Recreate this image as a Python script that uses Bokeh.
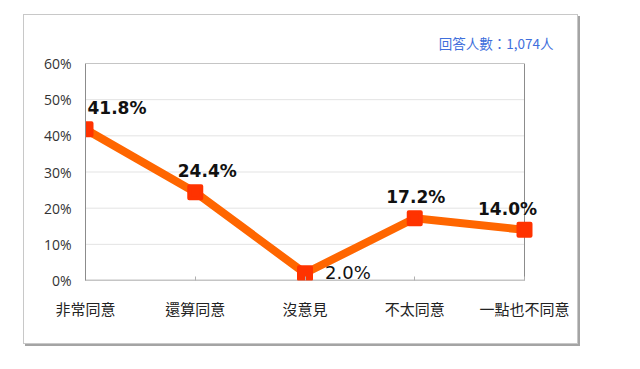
from bokeh.plotting import figure
from bokeh.models import (ColumnDataSource, FixedTicker, PrintfTickFormatter,
                          Title, Range1d)
from bokeh.core.properties import value
from bokeh.embed import file_html
from bokeh.resources import INLINE

# ---- data ----
categories = ["非常同意", "還算同意", "沒意見", "不太同意", "一點也不同意"]
values = [41.8, 24.4, 2.0, 17.2, 14.0]
value_labels = ["41.8%", "24.4%", "2.0%", "17.2%", "14.0%"]
y_ticks = [0, 10, 20, 30, 40, 50, 60]
respondents = "回答人數：1,074人"

# ---- label styling (offsets relative to points) ----
lab_dx = [2, 12, 20, 1, -17]
lab_dy = [-21, -21, -1, -21, -21]
lab_align = ["left", "center", "left", "center", "center"]
lab_style = ["bold", "bold", "normal", "bold", "bold"]
lab_size = ["17px", "17px", "18px", "17px", "17px"]

xs = list(range(len(categories)))
x_max = len(categories) - 1
y_max = y_ticks[-1]

p = figure(width=553, height=328, output_backend="svg", toolbar_location=None,
           x_range=Range1d(0, x_max * 455 / 439.0), y_range=Range1d(0, y_max),
           min_border_left=61, min_border_right=37, min_border_top=48,
           min_border_bottom=63, margin=(15, 0, 0, 24))
p.styles = {"box-shadow": "0 0 0 1px #c8c8c8, 2px 2px 0 1px #a4a4a4"}
p.background_fill_color = "white"
p.border_fill_color = "white"
p.outline_line_color = None

# axes
p.yaxis.ticker = FixedTicker(ticks=y_ticks)
p.yaxis.formatter = PrintfTickFormatter(format="%d%%")
p.yaxis.major_tick_line_color = None
p.yaxis.minor_tick_line_color = None
p.yaxis.axis_line_color = "#8c8c8c"
p.yaxis.major_label_text_font = "Open Sans"
p.yaxis.major_label_text_font_size = "14px"
p.yaxis.major_label_text_color = "#333333"
p.yaxis.major_label_standoff = 8

p.xaxis.ticker = FixedTicker(ticks=xs)
p.xaxis.major_label_overrides = {i: c for i, c in enumerate(categories)}
p.xaxis.major_tick_in = 4
p.xaxis.major_tick_out = 0
p.xaxis.major_tick_line_color = "#b0b0b0"
p.xaxis.minor_tick_line_color = None
p.xaxis.axis_line_color = None
p.xaxis.major_label_text_font = "Noto Sans CJK TC"
p.xaxis.major_label_text_font_size = "15px"
p.xaxis.major_label_text_color = "#222222"
p.xaxis.major_label_standoff = 17

p.xgrid.grid_line_color = None
p.ygrid.grid_line_color = None

# gridlines and plot-area border, limited to the category span
grid_y = y_ticks[1:-1]
p.segment(x0=[0] * len(grid_y), x1=[x_max] * len(grid_y), y0=grid_y, y1=grid_y,
          line_color="#e3e3e3", line_width=1)
p.line(x=[0, x_max, x_max], y=[y_max, y_max, 0], line_color="#8c8c8c", line_width=1)
p.line(x=[0, x_max], y=[0, 0], line_color="#8c8c8c", line_width=1.5)

src = ColumnDataSource(dict(x=xs, y=values, lab=value_labels, dx=lab_dx, dy=lab_dy,
                            align=lab_align, style=lab_style, size=lab_size))

p.line("x", "y", source=src, line_color="#ff6600", line_width=8, line_join="round")
p.scatter("x", "y", source=src, marker="square", size=12, fill_color="#ff3300",
          line_color="#ff3300", line_width=4, line_join="round")

p.text("x", "y", text="lab", source=src, x_offset="dx", y_offset="dy",
       text_align="align", text_baseline="middle", text_font_style="style",
       text_font=value("DejaVu Sans"), text_font_size="size", text_color="#111111")

p.add_layout(Title(text=respondents, align="right", offset=-13, standoff=22,
                   text_font="Noto Sans CJK TC", text_font_size="13.5px",
                   text_font_style="normal", text_color="#3f6fdc"), "above")

open("out.html", "w").write(file_html(p, INLINE))
